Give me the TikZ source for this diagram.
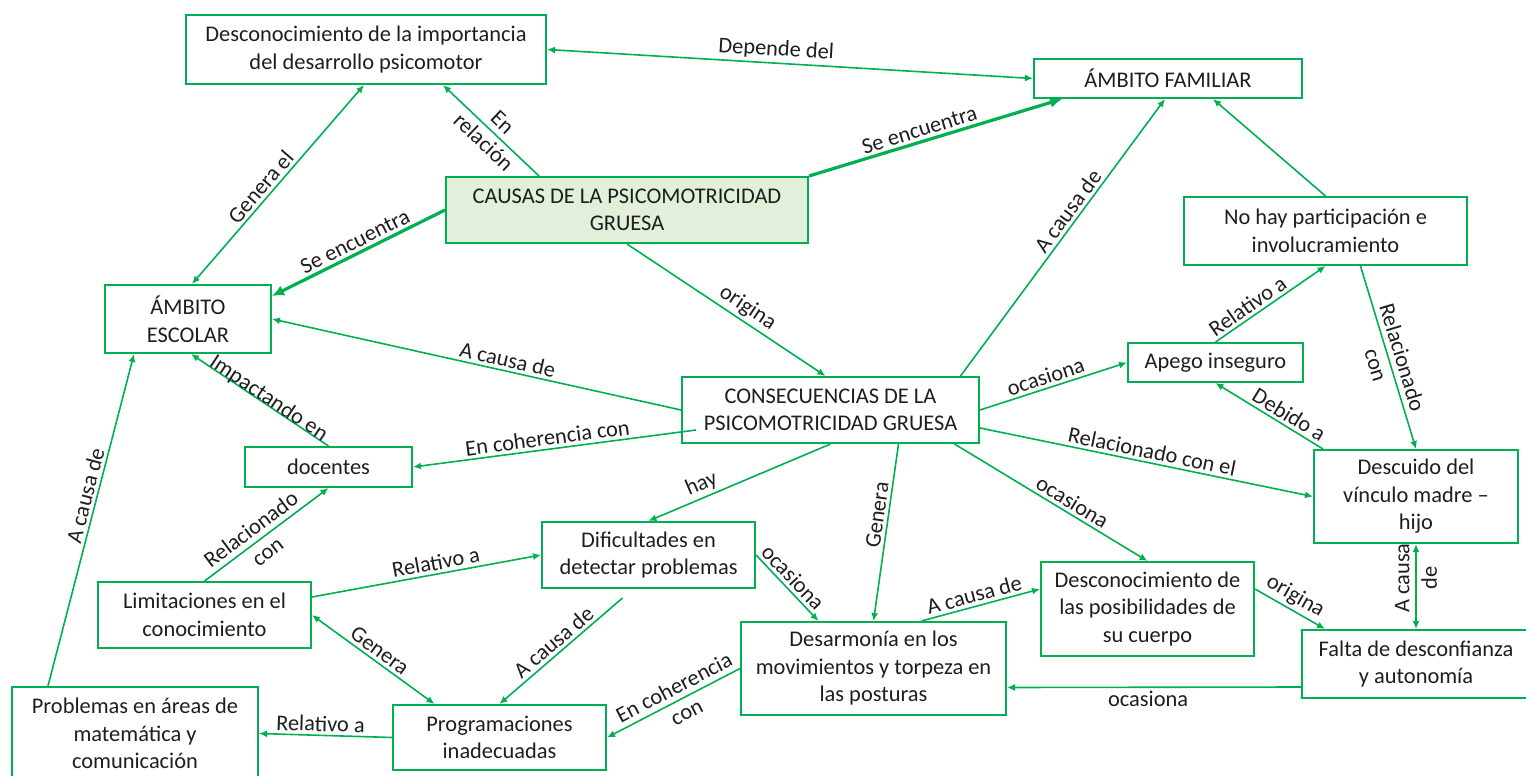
\documentclass[tikz,border=0pt]{standalone}
\usepackage{fontspec}
\setmainfont{Carlito}
\usetikzlibrary{arrows.meta, positioning}
\definecolor{mapgreen}{RGB}{0,176,80}
\definecolor{mapfill}{RGB}{226,239,218}
\definecolor{maptext}{RGB}{30,30,30}

\begin{document}
\begin{tikzpicture}[x=1pt, y=-1pt, font=\fontsize{22.4}{27.5}\selectfont, text=maptext,
  box/.style = {draw=mapgreen, line width=2pt, align=center, inner sep=2pt},
  link/.style = {draw=mapgreen, line width=1.6pt, -{Latex[length=8pt,width=7pt]}},
  twin/.style = {link, {Latex[length=8pt,width=7pt]}-{Latex[length=8pt,width=7pt]}},
  heavy/.style = {draw=mapgreen, line width=3.2pt, -{Latex[length=12pt,width=11pt]}},
  lbl/.style = {sloped, above, inner sep=3pt},
  twoline/.style = {sloped, align=center, inner sep=0pt},
  onl/.style = {sloped, anchor=base, inner sep=0pt}]
\useasboundingbox (0,0) rectangle (1526,776);

% boxes
\node[box, minimum width=360, minimum height=69] (dimp) at (366,49.5) {Desconocimiento de la importancia\\del desarrollo psicomotor};
\node[box, minimum width=268, minimum height=39] (afam) at (1168,78.5) {ÁMBITO FAMILIAR};
\node[box, fill=mapfill, minimum width=362, minimum height=66] (causas) at (627,210) {CAUSAS DE LA PSICOMOTRICIDAD\\GRUESA};
\node[box, minimum width=166, minimum height=68] (aesc) at (188,319) {ÁMBITO\\ESCOLAR};
\node[box, minimum width=283, minimum height=68] (nohay) at (1325.5,231) {No hay participación e\\involucramiento};
\node[box, minimum width=175, minimum height=39] (apego) at (1215.5,362.5) {Apego inseguro};
\node[box, minimum width=297, minimum height=66] (conseq) at (830.5,410) {CONSECUENCIAS DE LA\\PSICOMOTRICIDAD GRUESA};
\node[box, minimum width=204, minimum height=93] (descuido) at (1416,496.5) {Descuido del\\vínculo madre –\\hijo};
\node[box, minimum width=167, minimum height=40] (docentes) at (328.5,467) {docentes};
\node[box, minimum width=213, minimum height=66] (dific) at (648.5,555) {Dificultades en\\detectar problemas};
\node[box, minimum width=213, minimum height=66] (limit) at (204.5,615) {Limitaciones en el\\conocimiento};
\node[box, minimum width=246, minimum height=93] (probl) at (135,733.5) {Problemas en áreas de\\matemática y\\comunicación};
\node[box, minimum width=213, minimum height=65] (prog) at (499.5,737.5) {Programaciones\\inadecuadas};
\node[box, minimum width=265, minimum height=93] (desarm) at (873.5,668.5) {Desarmonía en los\\movimientos y torpeza en\\las posturas};
\node[box, minimum width=213, minimum height=94] (descpos) at (1147.5,609) {Desconocimiento de\\las posibilidades de\\su cuerpo};
\node[box, minimum width=228, minimum height=68] (falta) at (1416,664) {Falta de desconfianza\\y autonomía};
\coordinate (dificfoot) at ([xshift=-26pt,yshift=-9pt]dific.south);

% links
\draw[twin] (dimp.east) -- node[lbl, pos=0.47] {Depende del} (afam.west);
\draw[heavy] (causas.north east) -- node[lbl, pos=0.45] {Se encuentra} ([xshift=-106pt]afam.south);
\draw[heavy] (causas.west) -- node[lbl, pos=0.49] {Se encuentra} ([yshift=-12pt]aesc.north east);
\draw[link] ([xshift=-88pt]causas.north) -- node[twoline, pos=0.48] {En\\relación} ([xshift=77pt]dimp.south);
\draw[twin] ([xshift=-2pt]dimp.south) -- node[lbl, pos=0.55] {Genera el} ([xshift=4pt]aesc.north);
\draw[link] (conseq.west) -- node[lbl, pos=0.43] {A causa de} (aesc.east);
\draw[link] (causas.south) -- node[lbl, pos=0.57] {origina} ([xshift=-5pt]conseq.north);
\draw[link] ([xshift=130pt]conseq.north) -- node[lbl, pos=0.57] {A causa de} ([xshift=-3pt]afam.south);
\draw[link] (nohay.north) -- ([xshift=45pt]afam.south);
\draw[link] (conseq.east) -- node[lbl, pos=0.47] {ocasiona} (apego.west);
\draw[link] (apego.north) -- node[lbl, pos=0.35] {Relativo a} (nohay.south);
\draw[link] ([xshift=35pt]nohay.south) -- node[twoline, pos=0.52] {Relacionado\\con} (descuido.north);
\draw[link] ([xshift=-93pt]descuido.north) -- node[lbl, pos=0.37] {Debido a} (apego.south);
\draw[link] ([yshift=-18pt]conseq.east) -- node[lbl, pos=0.51] {Relacionado con el} (descuido.west);
\draw[link] ([xshift=124pt]conseq.south) -- node[lbl, pos=0.58] {ocasiona} (descpos.north);
\draw[link] (conseq.south) -- node[lbl, pos=0.68] {hay} (dific.north);
\draw[link] ([xshift=68pt]conseq.south) -- node[lbl, pos=0.41] {Genera} (desarm.north);
\draw[link] ([xshift=15pt,yshift=-20pt]conseq.west) -- node[lbl, pos=0.52] {En coherencia con} (docentes.east);
\draw[link] (docentes.north) -- node[onl, pos=0.46] {Impactando en} ([xshift=3pt]aesc.south);
\draw[link] (limit.north) -- node[twoline, pos=0.44] {Relacionado\\con} (docentes.south);
\draw[link] ([yshift=18pt]limit.east) -- node[lbl, pos=0.55] {Relativo a} (dific.west);
\draw[twin] (limit.east) -- node[lbl, pos=0.5] {Genera} ([xshift=-65pt]prog.north);
\draw[link] (dificfoot) -- node[lbl, pos=0.5] {A causa de} (prog.north);
\draw[link] (dific.east) -- node[lbl, pos=0.46] {ocasiona} ([xshift=-55pt]desarm.north);
\draw[link] (desarm.west) -- node[twoline, pos=0.45] {En coherencia\\con} (prog.east);
\draw[link] (prog.west) -- node[lbl, pos=0.54] {Relativo a} (probl.east);
\draw[link] ([xshift=-87pt]probl.north) -- node[lbl, pos=0.565] {A causa de} ([xshift=-54pt]aesc.south);
\draw[link] ([xshift=48pt]desarm.north) -- node[lbl, pos=0.47] {A causa de} ([yshift=20pt]descpos.west);
\draw[link] ([yshift=20pt]descpos.east) -- node[lbl, pos=0.48] {origina} ([xshift=-91pt]falta.north);
\draw[twin] (falta.north) -- node[twoline, pos=0.6] {A causa\\de} (descuido.south);
\draw[link] ([yshift=-23pt]falta.west) -- node[below, inner sep=3pt, pos=0.52] {ocasiona} ([yshift=-19pt]desarm.east);
\end{tikzpicture}
\end{document}
